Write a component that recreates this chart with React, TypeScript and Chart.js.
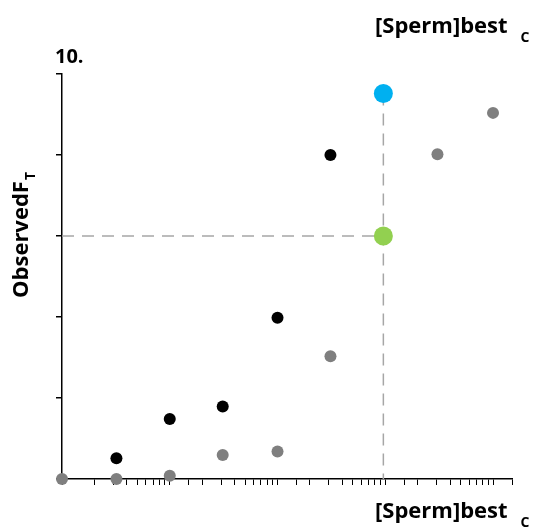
import React, { useEffect, useRef } from "react";
import { Chart, registerables } from "chart.js";

Chart.register(...registerables);

// ---- data ----
const grayX = [1, 3.2, 10, 31, 100, 310, 3050, 10000];
const grayY = [0, 0, 0.08, 0.59, 0.68, 3.03, 8.02, 9.04];
const blackX = [3.2, 10, 31, 100, 310];
const blackY = [0.51, 1.48, 1.79, 3.98, 8.0];
const bestX = [960];
const blueY = [9.52];
const greenY = [6];
const xMin = 1;
const xMax = 15000;
const yMin = 0;
const yMax = 10;
const yStep = 2;
const panelLabel = "10.";
const xTitleMain = "[Sperm]best";
const xTitleSub = "C";
const yTitleMain = "ObservedF";
const yTitleSub = "T";

const FONT = "'Open Sans', Lato, sans-serif";

function drawSub(ctx: CanvasRenderingContext2D, main: string, sub: string, x: number, y: number, mainSize: number, subSize: number, gap: number, drop: number) {
  ctx.font = `bold ${mainSize}px ${FONT}`;
  ctx.fillText(main, x, y);
  const w = ctx.measureText(main).width;
  ctx.font = `bold ${subSize}px ${FONT}`;
  ctx.fillText(sub, x + w + gap, y + drop);
}

const textPlugin = {
  id: "textLabels",
  afterDraw(chart: any) {
    const ctx: CanvasRenderingContext2D = chart.ctx;
    const { top, bottom } = chart.chartArea;
    ctx.save();
    ctx.fillStyle = "#000";
    ctx.textAlign = "left";
    ctx.textBaseline = "alphabetic";
    ctx.font = `bold 20px ${FONT}`;
    ctx.fillText(panelLabel, 55, 63);
    drawSub(ctx, xTitleMain, xTitleSub, 375, 33, 22, 14, 13, 9);
    drawSub(ctx, xTitleMain, xTitleSub, 375, 518, 22, 14, 13, 9);
    // y title rotated
    ctx.translate(28, (top + bottom) / 2 - 41);
    ctx.rotate(-Math.PI / 2);
    ctx.font = `bold 22px ${FONT}`;
    const w1 = ctx.measureText(yTitleMain).width;
    ctx.font = `bold 14px ${FONT}`;
    const w2 = ctx.measureText(yTitleSub).width;
    const start = -(w1 + w2) / 2;
    drawSub(ctx, yTitleMain, yTitleSub, start, 0, 22, 14, 1, 7);
    ctx.restore();
  },
};

export default function App() {
  const ref = useRef<HTMLCanvasElement>(null);
  useEffect(() => {
    document.body.style.margin = "0";
    const dashColor = "#a6a6a6";
    const chart = new Chart(ref.current!, {
      type: "scatter",
      data: {
        datasets: [
          {
            data: bestX.map((x, i) => ({ x, y: blueY[i] })),
            backgroundColor: "#00b0f0",
            borderWidth: 0,
            pointRadius: 9.5,
            order: 1,
          },
          {
            data: bestX.map((x, i) => ({ x, y: greenY[i] })),
            backgroundColor: "#92d050",
            borderWidth: 0,
            pointRadius: 9.5,
            order: 1,
          },
          {
            data: blackX.map((x, i) => ({ x, y: blackY[i] })),
            backgroundColor: "#000000",
            borderWidth: 0,
            pointRadius: 6,
            order: 2,
          },
          {
            data: grayX.map((x, i) => ({ x, y: grayY[i] })),
            backgroundColor: "#7f7f7f",
            borderWidth: 0,
            pointRadius: 6,
            order: 3,
          },
          {
            type: "line",
            data: [
              { x: bestX[0], y: blueY[0] },
              { x: bestX[0], y: yMin },
            ],
            borderColor: dashColor,
            borderWidth: 1.5,
            borderDash: [12, 8],
            pointRadius: 0,
            showLine: true,
            fill: false,
            order: 5,
          } as any,
          {
            type: "line",
            data: [
              { x: xMin, y: greenY[0] },
              { x: bestX[0], y: greenY[0] },
            ],
            borderColor: dashColor,
            borderWidth: 1.5,
            borderDash: [12, 8],
            pointRadius: 0,
            showLine: true,
            fill: false,
            order: 5,
          } as any,
        ],
      },
      options: {
        animation: false,
        responsive: false,
        clip: false as any,
        layout: { padding: { left: 56, right: 28, top: 74, bottom: 43 } },
        plugins: { legend: { display: false }, tooltip: { enabled: false } },
        scales: {
          x: {
            type: "logarithmic",
            min: xMin,
            max: xMax,
            ticks: { display: false, autoSkip: false },
            grid: { drawOnChartArea: false, drawTicks: true, tickLength: 6, color: "#000", lineWidth: 1 },
            border: { display: true, color: "#000", width: 1.5 },
          },
          y: {
            type: "linear",
            min: yMin,
            max: yMax,
            ticks: { display: false, stepSize: yStep },
            grid: { drawOnChartArea: false, drawTicks: true, tickLength: 6, color: "#000", lineWidth: 1.5 },
            border: { display: true, color: "#000", width: 1.5 },
          },
        },
      },
      plugins: [textPlugin],
    });
    return () => chart.destroy();
  }, []);
  return <canvas ref={ref} width={540} height={528} style={{ display: "block" }} />;
}
